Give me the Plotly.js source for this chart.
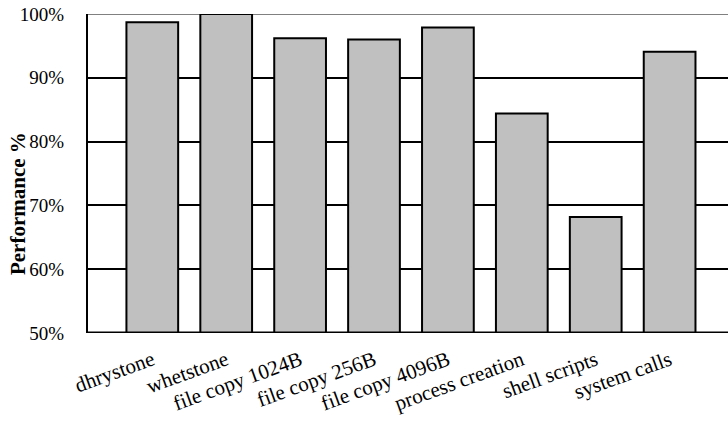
<!DOCTYPE html>
<html>
<head>
<meta charset="utf-8">
<script src="https://cdn.plot.ly/plotly-3.0.1.min.js"></script>
<style>html,body{margin:0;padding:0;background:#fff;}#chart{width:728px;height:430px;}</style>
</head>
<body>
<div id="chart"></div>
<script>
const categories = ["dhrystone", "whetstone", "file copy 1024B", "file copy 256B", "file copy 4096B", "process creation", "shell scripts", "system calls"];
const performance = [98.7, 100.0, 96.2, 96.0, 97.9, 84.4, 68.2, 94.1];
const yTickVals = [50, 60, 70, 80, 90, 100];
const yTickText = ["50%", "60%", "70%", "80%", "90%", "100%"];

const trace = {
  type: "bar",
  x: categories.map((c, i) => i),
  y: performance,
  width: 0.7,
  marker: {color: "#c0c0c0", line: {color: "#000000", width: 2}},
  hoverinfo: "none"
};

const layout = {
  width: 728, height: 430,
  margin: {l: 88, r: 0, t: 14, b: 97, pad: 0},
  paper_bgcolor: "#ffffff", plot_bgcolor: "#ffffff",
  showlegend: false,
  font: {family: "Liberation Serif, Times New Roman, serif", color: "#000000", size: 19},
  xaxis: {
    range: [-0.87, 7.79],
    tickvals: categories.map((c, i) => i),
    ticktext: categories,
    tickangle: -20,
    ticks: "",
    ticklabelstandoff: 10,
    showgrid: false,
    zeroline: false,
    showline: false,
    tickfont: {size: 21}
  },
  yaxis: {
    range: [50, 100],
    tickvals: yTickVals,
    ticktext: yTickText,
    ticks: "",
    ticklabelstandoff: 18,
    showgrid: true,
    gridcolor: "#000000",
    gridwidth: 2,
    zeroline: false,
    showline: true,
    linecolor: "#000000",
    linewidth: 2,
    tickfont: {size: 19}
  },
  shapes: [
    {type: "line", xref: "paper", yref: "y", x0: 0, x1: 1, y0: 100, y1: 100, line: {color: "#808080", width: 2}, layer: "below"},
    {type: "line", xref: "paper", yref: "y", x0: 0, x1: 1, y0: 50, y1: 50, line: {color: "#000000", width: 3}, layer: "above"}
  ],
  annotations: [
    {text: "<b>Performance %</b>", xref: "paper", yref: "paper", x: -0.109, y: 0.405, textangle: -90, showarrow: false, xanchor: "center", yanchor: "middle", font: {size: 21, family: "Liberation Serif, Times New Roman, serif"}}
  ]
};

Plotly.newPlot("chart", [trace], layout, {displayModeBar: false, staticPlot: true});
</script>
</body>
</html>
